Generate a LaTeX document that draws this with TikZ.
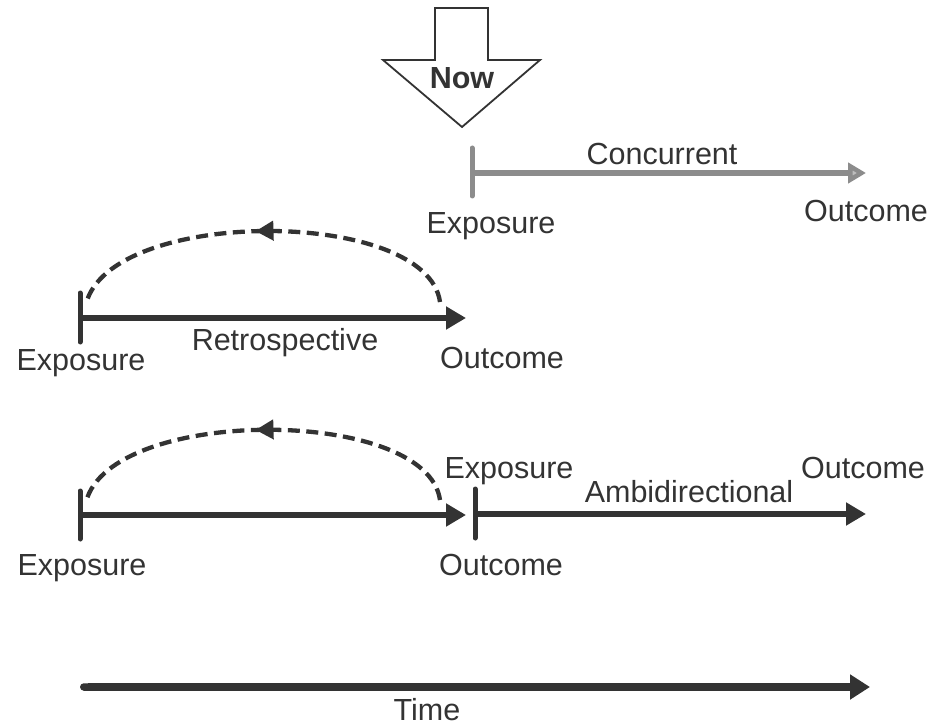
\documentclass[tikz,border=0pt]{standalone}
\usepackage{fontspec}
\setmainfont{Liberation Sans}
\usetikzlibrary{arrows.meta,decorations.markings}
\definecolor{ink}{HTML}{333333}
\definecolor{lite}{HTML}{8C8C8C}
\definecolor{litefill}{HTML}{BDBDBD}
\begin{document}
\begin{tikzpicture}[x=1pt,y=-1pt,
  lbl/.style={font=\fontsize{30.5}{36}\selectfont, text=ink, inner sep=0pt, anchor=base},
  bar/.style={draw=ink, line width=6.5pt, -{Triangle[length=20pt,width=22pt]}},
  litebar/.style={draw=lite, line width=5.5pt, -{Triangle[length=18pt,width=20pt,fill=litefill]}},
  tickmark/.style={draw=ink, line width=5pt, line cap=round},
  litetick/.style={draw=lite, line width=5pt, line cap=round},
  arcline/.style={draw=ink, line width=4.3pt, dash pattern=on 12pt off 6.5pt,
    postaction=decorate, decoration={markings,
      mark=at position 0.52 with {\arrow[ink]{Triangle[length=18pt,width=19pt]}}}},
  nowarrow/.style={draw=ink, fill=white, line width=1.8pt, line join=miter}]
\useasboundingbox (0,0) rectangle (931,727);

% Now arrow
\draw[nowarrow] (435,8) -- (488,8) -- (488,60) -- (540,60) -- (462,127) -- (383,60) -- (435,60) -- cycle;
\node[lbl, font=\fontsize{30.5}{36}\selectfont\bfseries] (now) at (462,89) {Now};

% Concurrent
\coordinate (cE) at (472,173);
\coordinate (cO) at (866,173);
\draw[litetick] (472,148) -- (472,196);
\draw[litebar] (cE) -- (cO);
\node[lbl] (conc) at (662,165) {Concurrent};
\node[lbl] (cEx) at (491,234) {Exposure};
\node[lbl] (cOut) at (866,222) {Outcome};

% Retrospective
\coordinate (rE) at (80,318);
\coordinate (rO) at (466,318);
\coordinate (rA) at (86,304);
\coordinate (rB) at (440,302);
\draw[tickmark] (80,293) -- (80,342);
\draw[bar] (rE) -- (rO);
\draw[arcline] (rB) .. controls (427,207) and (110,207) .. (rA);
\node[lbl] (retro) at (285,350) {Retrospective};
\node[lbl] (rEx) at (81,370) {Exposure};
\node[lbl] (rOut) at (502,368) {Outcome};

% Ambidirectional
\coordinate (aE) at (80,515);
\coordinate (aM) at (466,515);
\coordinate (aX) at (475,514);
\coordinate (aO) at (866,514);
\coordinate (aA) at (86,502);
\coordinate (aB) at (440,500);
\draw[tickmark] (80,491) -- (80,539);
\draw[bar] (aE) -- (aM);
\draw[tickmark] (475,489) -- (475,538);
\draw[bar] (aX) -- (aO);
\draw[arcline] (aB) .. controls (427,406) and (110,406) .. (aA);
\node[lbl] (aExTop) at (509,478) {Exposure};
\node[lbl] (ambi) at (689,502) {Ambidirectional};
\node[lbl] (aOutTop) at (863,478) {Outcome};
\node[lbl] (aEx) at (82,575) {Exposure};
\node[lbl] (aOut) at (501,575) {Outcome};

% Time
\coordinate (t0) at (80,687);
\coordinate (t1) at (870,687);
\draw[draw=ink, line width=7.5pt, {Round Cap[]}-{Triangle[length=20pt,width=24pt]}] (t0) -- (t1);
\node[lbl] (time) at (427,720) {Time};
\end{tikzpicture}
\end{document}
